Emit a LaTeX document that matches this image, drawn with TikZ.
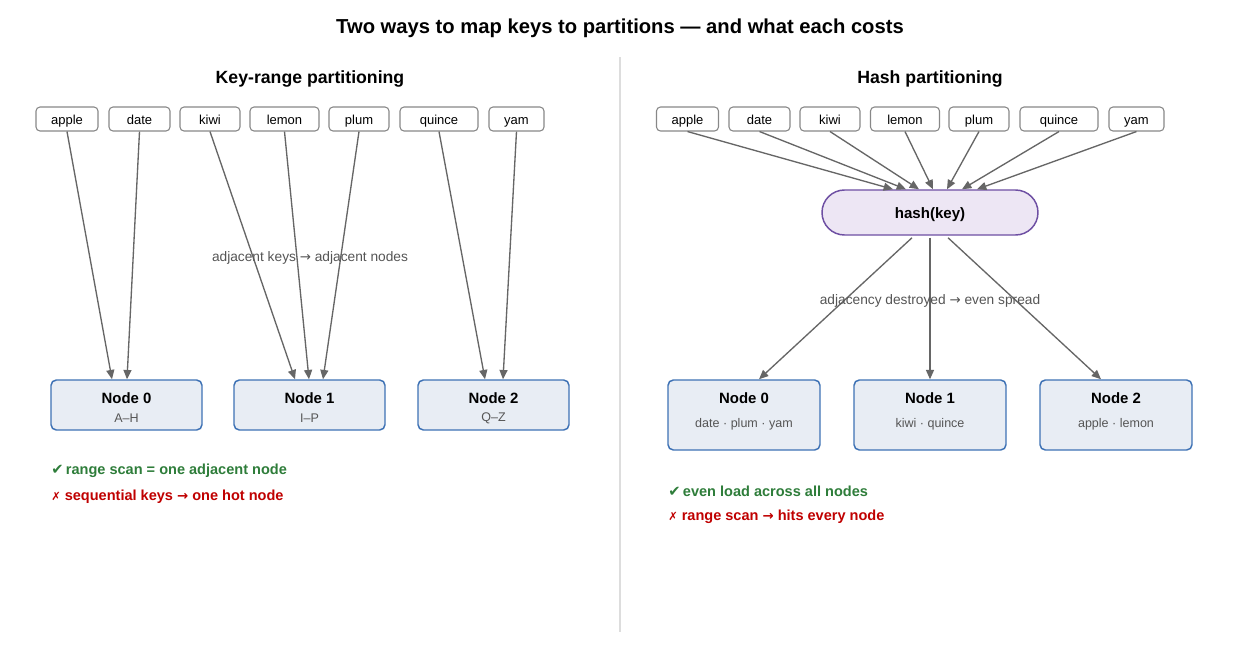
\documentclass[tikz,border=0pt]{standalone}
\usepackage{fontspec}
\setmainfont{Liberation Sans}
\newfontfamily\symfont{DejaVu Sans}
\usetikzlibrary{arrows.meta,calc,shapes.misc}
\definecolor{keyedge}{HTML}{888888}
\definecolor{arrowc}{HTML}{666666}
\definecolor{nodefill}{HTML}{E8EDF4}
\definecolor{nodeedge}{HTML}{3E72B5}
\definecolor{hashfill}{HTML}{EDE6F4}
\definecolor{hashedge}{HTML}{6E4FA3}
\definecolor{goodc}{HTML}{2E7D3A}
\definecolor{badc}{HTML}{C00000}
\definecolor{labc}{HTML}{555555}
\definecolor{divc}{HTML}{DDDDDD}
\newcommand{\fs}[1]{\fontsize{#1}{#1}\selectfont}
\newcommand{\arr}{{\symfont\fs{10}→}}
\tikzset{
  keybox/.style={draw=keyedge, line width=0.8pt, rounded corners=3pt, fill=white,
    minimum height=24*0.75pt, minimum width=#1*0.75pt, inner sep=0pt, font=\fs{9.75},
    text height=8.6pt, text depth=0.8pt},
  partbox/.style={draw=nodeedge, line width=1.1pt, rounded corners=4pt, fill=nodefill,
    minimum width=151*0.75pt, inner sep=0pt},
  hashbox/.style={draw=hashedge, line width=1.1pt, rounded rectangle, fill=hashfill,
    minimum width=216*0.75pt, minimum height=45*0.75pt, inner sep=0pt, font=\bfseries\fs{11.3},
    text height=9.5pt, text depth=1pt},
  conn/.style={draw=arrowc, line width=1pt, -{Triangle[length=7pt,width=6pt]}},
  ttl/.style={font=\bfseries\fs{11.2}},
  sub/.style={font=\fs{9.4}, text=labc},
  lab/.style={font=\fs{10.3}, text=labc},
  good/.style={anchor=west, inner sep=0pt, font=\bfseries\fs{10.9}, text=goodc},
  bad/.style={anchor=west, inner sep=0pt, font=\bfseries\fs{10.9}, text=badc},
}
\begin{document}
\begin{tikzpicture}[x=0.75pt,y=-0.75pt]
\useasboundingbox[fill=white] (0,0) rectangle (1240,658);
\node[font=\bfseries\fs{15.15}] (title) at (620,28.5) {Two ways to map keys to partitions — and what each costs};
\draw[divc, line width=0.8pt] (620,57) coordinate (d1) -- (620,632) coordinate (d2);
\node[font=\bfseries\fs{13.26}] (lt) at (310,79) {Key-range partitioning};
\node[font=\bfseries\fs{13.26}] (rt) at (930,79) {Hash partitioning};

% left keys
\node[keybox=62] (la) at (67,119) {apple};
\node[keybox=61] (ld) at (139.5,119) {date};
\node[keybox=60] (lk) at (210,119) {kiwi};
\node[keybox=69] (ll) at (284.5,119) {lemon};
\node[keybox=60] (lp) at (359,119) {plum};
\node[keybox=78] (lq) at (439,119) {quince};
\node[keybox=55] (ly) at (516.5,119) {yam};

% left partitions
\node[partbox, minimum height=50*0.75pt] (n0) at (126.5,405) {};
\node[partbox, minimum height=50*0.75pt] (n1) at (309.5,405) {};
\node[partbox, minimum height=50*0.75pt] (n2) at (493.5,405) {};
\node[ttl] (n0t) at (126.5,398) {Node 0};
\node[sub] (n0s) at (126.5,418) {A–H};
\node[ttl] (n1t) at (309.5,398) {Node 1};
\node[sub] (n1s) at (309.5,418) {I–P};
\node[ttl] (n2t) at (493.5,398) {Node 2};
\node[sub] (n2s) at (493.5,418) {Q–Z};

\draw[conn] (la.south) -- ($(n0.north)+(-14.5,0)$);
\draw[conn] (ld.south) -- ($(n0.north)+(0.5,0)$);
\draw[conn] (lk.south) -- ($(n1.north)+(-14.5,0)$);
\draw[conn] (ll.south) -- ($(n1.north)+(-0.5,0)$);
\draw[conn] (lp.south) -- ($(n1.north)+(13.5,0)$);
\draw[conn] (lq.south) -- ($(n2.north)+(-8.5,0)$);
\draw[conn] (ly.south) -- ($(n2.north)+(9.5,0)$);

\node[lab] (ll1) at (310,257.5) {adjacent keys \arr\ adjacent nodes};

\node[good] (g1) at (51,471) {{\symfont\mdseries\fs{11}✔}\,range scan = one adjacent node};
\node[bad] (b1) at (51,496.5) {{\symfont\mdseries\fs{8.5}✗} sequential keys \arr\ one hot node};

% right keys
\node[keybox=62] (ra) at (687.5,119) {apple};
\node[keybox=61] (rd) at (759.5,119) {date};
\node[keybox=60] (rk) at (830,119) {kiwi};
\node[keybox=69] (rl) at (905,119) {lemon};
\node[keybox=60] (rp) at (979,119) {plum};
\node[keybox=78] (rq) at (1059,119) {quince};
\node[keybox=55] (ry) at (1136.5,119) {yam};

\node[hashbox] (h) at (930,212.5) {hash(key)};

\draw[conn] (ra.south) -- ($(h.north)+(-37,0)$);
\draw[conn] (rd.south) -- ($(h.north)+(-24,0)$);
\draw[conn] (rk.south) -- ($(h.north)+(-11,0)$);
\draw[conn] (rl.south) -- ($(h.north)+(3,0)$);
\draw[conn] (rp.south) -- ($(h.north)+(17,0)$);
\draw[conn] (rq.south) -- ($(h.north)+(32,0)$);
\draw[conn] (ry.south) -- ($(h.north)+(47,0)$);

% right partitions
\node[partbox, minimum width=152*0.75pt, minimum height=70*0.75pt] (m0) at (744,415) {};
\node[partbox, minimum width=152*0.75pt, minimum height=70*0.75pt] (m1) at (930,415) {};
\node[partbox, minimum width=152*0.75pt, minimum height=70*0.75pt] (m2) at (1116,415) {};
\node[ttl] (m0t) at (744,398) {Node 0};
\node[sub] (m0s) at (744,424) {date · plum · yam};
\node[ttl] (m1t) at (930,398) {Node 1};
\node[sub] (m1s) at (930,424) {kiwi · quince};
\node[ttl] (m2t) at (1116,398) {Node 2};
\node[sub] (m2s) at (1116,424) {apple · lemon};

\draw[conn] ($(h.south)+(-18,2)$) -- ($(m0.north)+(15,0)$);
\draw[conn] ($(h.south)+(0,2)$) -- (m1.north);
\draw[conn] ($(h.south)+(18,2)$) -- ($(m2.north)+(-15,0)$);

\node[lab] (rl1) at (930,300.5) {adjacency destroyed \arr\ even spread};

\node[good] (g2) at (668,491) {{\symfont\mdseries\fs{11}✔}\,even load across all nodes};
\node[bad] (b2) at (668,516.5) {{\symfont\mdseries\fs{8.5}✗} range scan \arr\ hits every node};
\end{tikzpicture}
\end{document}
